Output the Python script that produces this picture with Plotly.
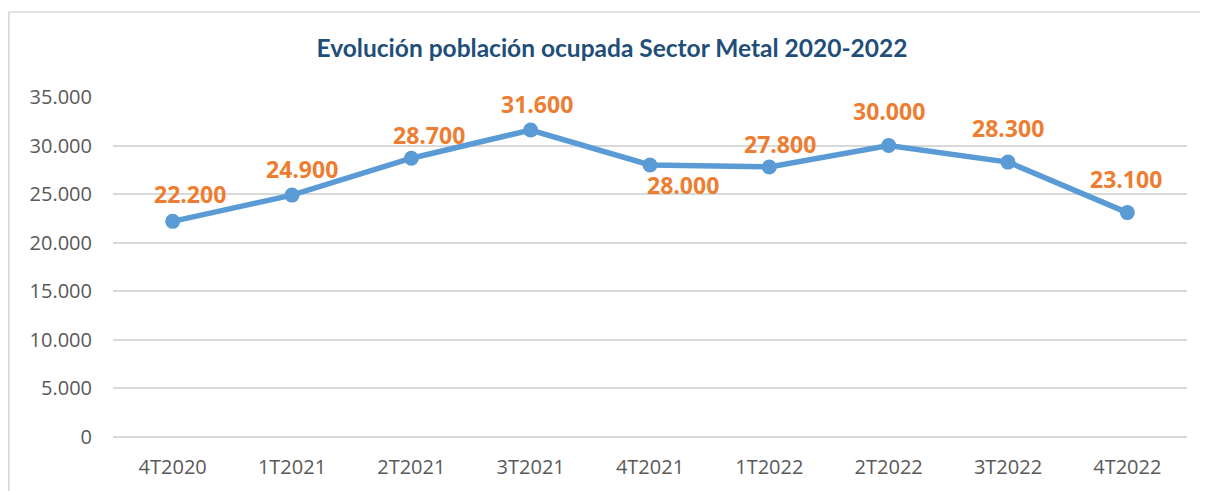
import plotly.graph_objects as go

categories = ["4T2020", "1T2021", "2T2021", "3T2021", "4T2021", "1T2022", "2T2022", "3T2022", "4T2022"]
values = [22200, 24900, 28700, 31600, 28000, 27800, 30000, 28300, 23100]
label_texts = ["22.200", "24.900", "28.700", "31.600", "28.000", "27.800", "30.000", "28.300", "23.100"]
y_ticks = [0, 5000, 10000, 15000, 20000, 25000, 30000, 35000]

# label offsets (px) relative to each marker
label_dx = [17, 10, 18, 6, 33, 11, 0, 0, -1]
label_dy = [27, 26, 23, 26, -20, 23, 35, 34, 34]

LINE = "#5B9BD5"
ORANGE = "#ED7D31"
GRID = "#D9D9D9"
TICK = "#595959"

W, H = 1200, 483
L, R, T, B = 105, 21, 89, 54
PW, PH = W - L - R, H - T - B

fig = go.Figure()
fig.add_trace(go.Scatter(
    x=categories, y=values, mode="lines+markers",
    line=dict(color=LINE, width=5.5),
    marker=dict(color=LINE, size=15),
    hoverinfo="skip", showlegend=False,
))

for c, v, t, dx, dy in zip(categories, values, label_texts, label_dx, label_dy):
    fig.add_annotation(
        x=c, y=v, text=t, showarrow=False, xshift=dx, yshift=dy,
        font=dict(family="Open Sans", size=23, color=ORANGE, weight="bold"),
        xanchor="center", yanchor="middle",
    )

bx = (0.8 - L) / PW
by = 1 + (T - 4) / PH

fig.update_layout(
    width=W, height=H,
    margin=dict(l=L, r=R, t=T, b=B),
    paper_bgcolor="white", plot_bgcolor="white",
    separators=",.",
    title=dict(
        text="<b>Evolución población ocupada Sector Metal 2020-2022</b>",
        font=dict(family="Lato", size=24.5, color="#1F4E79"),
        x=604 / W, xref="container", xanchor="center",
        y=1 - 40 / H, yref="container", yanchor="middle",
    ),
    xaxis=dict(
        type="category", range=[-0.5, len(categories) - 0.5],
        showgrid=False, showline=False, zeroline=False, ticks="",
        tickfont=dict(family="Open Sans", size=20, color=TICK),
        ticklabelstandoff=16,
    ),
    yaxis=dict(
        range=[0, 35000], tickvals=y_ticks, tickformat=",d",
        showgrid=True, gridcolor=GRID, gridwidth=1.6,
        zeroline=True, zerolinecolor=GRID, zerolinewidth=1.6,
        showline=False, ticks="",
        tickfont=dict(family="Open Sans", size=20, color=TICK),
        ticklabelstandoff=20,
    ),
    shapes=[
        dict(type="line", xref="paper", yref="paper",
             x0=bx, x1=(W - L) / PW + 0.01, y0=by, y1=by,
             line=dict(color=GRID, width=1.6), layer="below"),
        dict(type="line", xref="paper", yref="paper",
             x0=bx, x1=bx, y0=by, y1=-0.3,
             line=dict(color=GRID, width=1.6), layer="below"),
    ],
)

fig.write_html("out.html")
